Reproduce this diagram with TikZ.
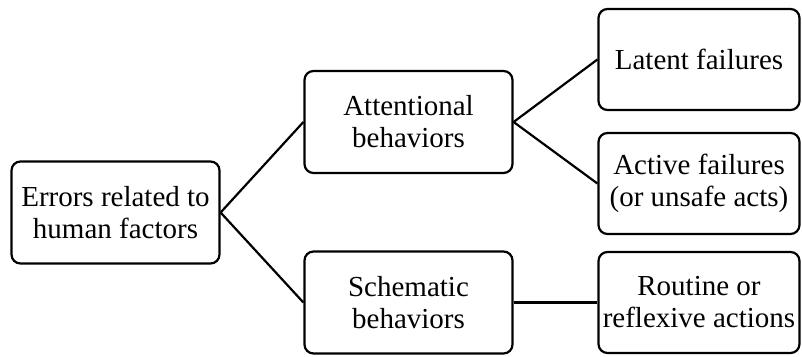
\documentclass[tikz,border=0pt]{standalone}
\usepackage{fontspec}
\setmainfont{Liberation Serif}

\begin{document}
\begin{tikzpicture}[x=1pt, y=-1pt,
    box/.style={draw, line width=2.2pt, rounded corners=9pt, align=center,
      inner sep=0pt, font=\fontsize{29}{32}\selectfont},
    midbox/.style={box, minimum width=208pt, minimum height=102pt},
    leafbox/.style={box, minimum width=201pt, minimum height=101pt},
    link/.style={line width=2.2pt}]

  \useasboundingbox (0,0) rectangle (802,356);

  % nodes
  \node [midbox] (errors) at (115.5,212.5) {Errors related to\\human factors};
  \node [midbox] (attn) at (408.5,122) {Attentional\\behaviors};
  \node [midbox] (schem) at (408.5,302.5) {Schematic\\behaviors};
  \node [leafbox] (latent) at (699,59.5) {Latent failures};
  \node [leafbox] (active) at (699,183.5) {Active failures\\(or unsafe acts)};
  \node [leafbox] (routine) at (699,302.5) {Routine or\\reflexive actions};

  % links
  \draw [link] (errors.east) -- (attn.west);
  \draw [link] (errors.east) -- (schem.west);
  \draw [link] (attn.east) -- (latent.west);
  \draw [link] (attn.east) -- (active.west);
  \draw [link] (schem.east) -- (routine.west);

\end{tikzpicture}
\end{document}
